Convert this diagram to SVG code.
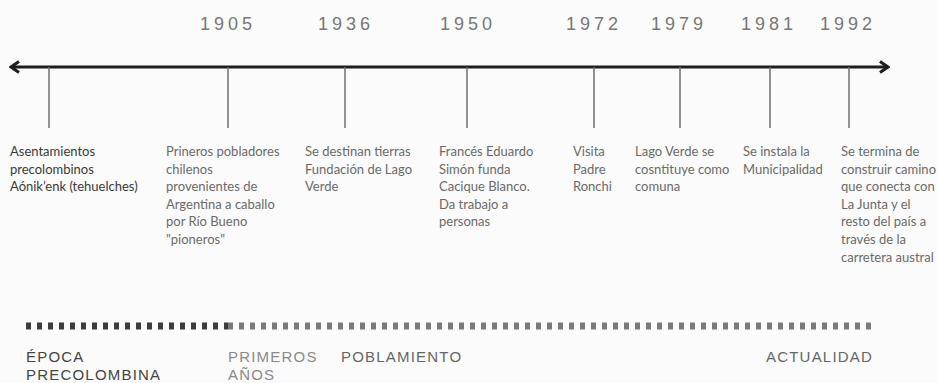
<svg xmlns="http://www.w3.org/2000/svg" width="938" height="383" viewBox="0 0 938 383">
  <style>
    .year { font-family: "Liberation Sans", Arial, sans-serif; font-size: 18px; letter-spacing: 4px; fill: #777777; }
    .tick { stroke: #6e6e6e; stroke-width: 1.5; }
    .desc { font-family: Lato, "Open Sans", sans-serif; font-size: 13px; fill: #6a6a6a; }
    .desc.dark { fill: #3a3a3a; }
    .era { font-family: "Liberation Sans", Arial, sans-serif; font-size: 15px; letter-spacing: 1.2px; }
  </style>
  <defs>
    <marker id="chev" viewBox="0 0 12 14" markerWidth="12" markerHeight="14" refX="10" refY="7" orient="auto-start-reverse" markerUnits="userSpaceOnUse">
      <path d="M2,1.5 L10,7 L2,12.5" fill="none" stroke="#1e1e1e" stroke-width="3"/>
    </marker>
  </defs>
  <rect width="938" height="383" fill="#fbfbfb"/>

  <g id="connectors">
    <line x1="11" y1="67" x2="888" y2="67" stroke="#1e1e1e" stroke-width="3" marker-start="url(#chev)" marker-end="url(#chev)"/>
  </g>

  <g id="n-precolombino">
    <line class="tick" x1="49" y1="67" x2="49" y2="128"/>
    <text class="desc dark" x="10" y="156">
      <tspan x="10">Asentamientos</tspan>
      <tspan x="10" dy="17.6">precolombinos</tspan>
      <tspan x="10" dy="17.6">Aónik’enk (tehuelches)</tspan>
    </text>
  </g>

  <g id="n-1905">
    <text class="year" x="200" y="30">1905</text>
    <line class="tick" x1="228" y1="67" x2="228" y2="128"/>
    <text class="desc" x="166" y="156">
      <tspan x="166">Prineros pobladores</tspan>
      <tspan x="166" dy="17.6">chilenos</tspan>
      <tspan x="166" dy="17.6">provenientes de</tspan>
      <tspan x="166" dy="17.6">Argentina a caballo</tspan>
      <tspan x="166" dy="17.6">por Río Bueno</tspan>
      <tspan x="166" dy="17.6">"pioneros"</tspan>
    </text>
  </g>

  <g id="n-1936">
    <text class="year" x="318" y="30">1936</text>
    <line class="tick" x1="345" y1="67" x2="345" y2="128"/>
    <text class="desc" x="305" y="156">
      <tspan x="305">Se destinan tierras</tspan>
      <tspan x="305" dy="17.6">Fundación de Lago</tspan>
      <tspan x="305" dy="17.6">Verde</tspan>
    </text>
  </g>

  <g id="n-1950">
    <text class="year" x="440" y="30">1950</text>
    <line class="tick" x1="467" y1="67" x2="467" y2="128"/>
    <text class="desc" x="439" y="156">
      <tspan x="439">Francés Eduardo</tspan>
      <tspan x="439" dy="17.6">Simón funda</tspan>
      <tspan x="439" dy="17.6">Cacique Blanco.</tspan>
      <tspan x="439" dy="17.6">Da trabajo a</tspan>
      <tspan x="439" dy="17.6">personas</tspan>
    </text>
  </g>

  <g id="n-1972">
    <text class="year" x="566" y="30">1972</text>
    <line class="tick" x1="594" y1="67" x2="594" y2="128"/>
    <text class="desc" x="573" y="156">
      <tspan x="573">Visita</tspan>
      <tspan x="573" dy="17.6">Padre</tspan>
      <tspan x="573" dy="17.6">Ronchi</tspan>
    </text>
  </g>

  <g id="n-1979">
    <text class="year" x="651" y="30">1979</text>
    <line class="tick" x1="680" y1="67" x2="680" y2="128"/>
    <text class="desc" x="635" y="156">
      <tspan x="635">Lago Verde se</tspan>
      <tspan x="635" dy="17.6">cosntituye como</tspan>
      <tspan x="635" dy="17.6">comuna</tspan>
    </text>
  </g>

  <g id="n-1981">
    <text class="year" x="741" y="30">1981</text>
    <line class="tick" x1="770" y1="67" x2="770" y2="128"/>
    <text class="desc" x="743" y="156">
      <tspan x="743">Se instala la</tspan>
      <tspan x="743" dy="17.6">Municipalidad</tspan>
    </text>
  </g>

  <g id="n-1992">
    <text class="year" x="820" y="30">1992</text>
    <line class="tick" x1="849" y1="67" x2="849" y2="128"/>
    <text class="desc" x="841" y="156">
      <tspan x="841">Se termina de</tspan>
      <tspan x="841" dy="17.6">construir camino</tspan>
      <tspan x="841" dy="17.6">que conecta con</tspan>
      <tspan x="841" dy="17.6">La Junta y el</tspan>
      <tspan x="841" dy="17.6">resto del país a</tspan>
      <tspan x="841" dy="17.6">través de la</tspan>
      <tspan x="841" dy="17.6">carretera austral</tspan>
    </text>
  </g>

  <g id="eras">
    <line x1="26" y1="326" x2="228" y2="326" stroke="#3c3c3c" stroke-width="7" stroke-dasharray="5 6"/>
    <line x1="228" y1="326" x2="877" y2="326" stroke="#7a7a7a" stroke-width="7" stroke-dasharray="5 6"/>
    <text class="era" fill="#444444" x="26" y="362">
      <tspan x="26">ÉPOCA</tspan>
      <tspan x="26" dy="18">PRECOLOMBINA</tspan>
    </text>
    <text class="era" fill="#8a8a8a" x="228" y="362" letter-spacing="0.8">
      <tspan x="228">PRIMEROS</tspan>
      <tspan x="228" dy="18">AÑOS</tspan>
    </text>
    <text class="era" fill="#666666" x="341" y="362">POBLAMIENTO</text>
    <text class="era" fill="#666666" x="766" y="362" letter-spacing="0.9">ACTUALIDAD</text>
  </g>
</svg>
